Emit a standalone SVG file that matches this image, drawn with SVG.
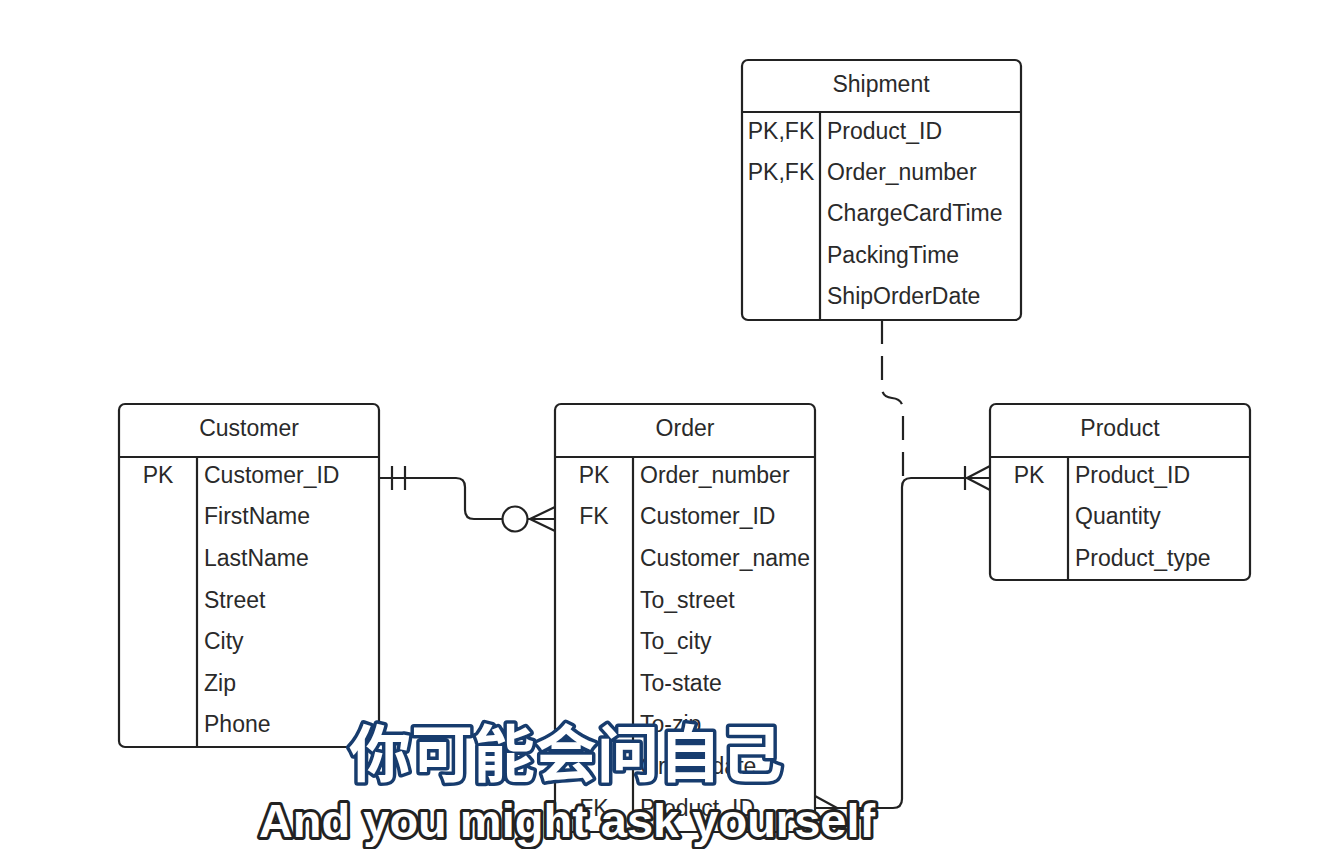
<svg xmlns="http://www.w3.org/2000/svg" width="1327" height="849" viewBox="0 0 1327 849">
<style>
.box{fill:#fff;stroke:#222;stroke-width:2.2}
.ln{fill:none;stroke:#222;stroke-width:2.2}
.t{font-family:"Liberation Sans",Arial,sans-serif;font-size:23px;fill:#2a2a2a}
.c{text-anchor:middle}
.dash{fill:none;stroke:#222;stroke-width:2.2;stroke-dasharray:24 12}
.zh{font-family:"Noto Sans CJK SC",sans-serif;font-weight:bold;font-size:62px;fill:#fff;stroke:#173c6e;stroke-width:7;paint-order:stroke;stroke-linejoin:round;text-anchor:middle}
.en{font-family:"Liberation Sans",Arial,sans-serif;font-weight:bold;font-size:47px;fill:#fff;stroke:#222;stroke-width:6;paint-order:stroke;stroke-linejoin:round;text-anchor:middle}
</style>
<rect width="1327" height="849" fill="#fff"/>

<g id="connectors">
  <!-- Customer to Order -->
  <path class="ln" d="M379,478 H456 Q465,478 465,487 V510 Q465,519 474,519 H502"/>
  <line class="ln" x1="392" y1="466" x2="392" y2="490"/>
  <line class="ln" x1="405" y1="466" x2="405" y2="490"/>
  <circle class="ln" cx="515" cy="519" r="12.5"/>
  <path class="ln" d="M527.5,519 H555 M530,519 L555,507 M530,519 L555,531"/>
  <!-- Order to Product -->
  <path class="ln" d="M837,808 H893 Q902,808 902,799 V487 Q902,478 911,478 H990"/>
  <path class="ln" d="M815,808 H837 M837,808 L815,796 M837,808 L815,820"/>
  <line class="ln" x1="965" y1="466" x2="965" y2="490"/>
  <path class="ln" d="M967,478 L990,466 M967,478 L990,490"/>
  <!-- Shipment dashed -->
  <path class="dash" d="M882,320 L882,388 Q882,397 892,398 Q903,399 903,410 L903,478"/>
</g>

<g id="shipment">
  <rect class="box" x="742" y="60" width="279" height="260" rx="6"/>
  <line class="ln" x1="742" y1="112" x2="1021" y2="112"/>
  <line class="ln" x1="820" y1="112" x2="820" y2="320"/>
  <text class="t c" x="881" y="92">Shipment</text>
  <text class="t c" x="781" y="139">PK,FK</text>
  <text class="t c" x="781" y="180">PK,FK</text>
  <text class="t" x="827" y="139">Product_ID</text>
  <text class="t" x="827" y="180">Order_number</text>
  <text class="t" x="827" y="221">ChargeCardTime</text>
  <text class="t" x="827" y="263">PackingTime</text>
  <text class="t" x="827" y="304">ShipOrderDate</text>
</g>

<g id="customer">
  <rect class="box" x="119" y="404" width="260" height="343" rx="6"/>
  <line class="ln" x1="119" y1="457" x2="379" y2="457"/>
  <line class="ln" x1="197" y1="457" x2="197" y2="747"/>
  <text class="t c" x="249" y="436">Customer</text>
  <text class="t c" x="158" y="483">PK</text>
  <text class="t" x="204" y="483">Customer_ID</text>
  <text class="t" x="204" y="524">FirstName</text>
  <text class="t" x="204" y="566">LastName</text>
  <text class="t" x="204" y="608">Street</text>
  <text class="t" x="204" y="649">City</text>
  <text class="t" x="204" y="691">Zip</text>
  <text class="t" x="204" y="732">Phone</text>
</g>

<g id="order">
  <rect class="box" x="555" y="404" width="260" height="428" rx="6"/>
  <line class="ln" x1="555" y1="457" x2="815" y2="457"/>
  <line class="ln" x1="633" y1="457" x2="633" y2="832"/>
  <text class="t c" x="685" y="436">Order</text>
  <text class="t c" x="594" y="483">PK</text>
  <text class="t c" x="594" y="524">FK</text>
  <text class="t c" x="594" y="816">FK</text>
  <text class="t" x="640" y="483">Order_number</text>
  <text class="t" x="640" y="524">Customer_ID</text>
  <text class="t" x="640" y="566">Customer_name</text>
  <text class="t" x="640" y="608">To_street</text>
  <text class="t" x="640" y="649">To_city</text>
  <text class="t" x="640" y="691">To-state</text>
  <text class="t" x="640" y="732">To-zip</text>
  <text class="t" x="640" y="774">Order_date</text>
  <text class="t" x="640" y="816">Product_ID</text>
</g>

<g id="product">
  <rect class="box" x="990" y="404" width="260" height="176" rx="6"/>
  <line class="ln" x1="990" y1="457" x2="1250" y2="457"/>
  <line class="ln" x1="1068" y1="457" x2="1068" y2="580"/>
  <text class="t c" x="1120" y="436">Product</text>
  <text class="t c" x="1029" y="483">PK</text>
  <text class="t" x="1075" y="483">Product_ID</text>
  <text class="t" x="1075" y="524">Quantity</text>
  <text class="t" x="1075" y="566">Product_type</text>
</g>

<g id="subtitles">
  <text class="zh" x="566" y="777">你可能会问自己</text>
  <text class="en" x="567" y="837">And you might ask yourself</text>
</g>
</svg>
